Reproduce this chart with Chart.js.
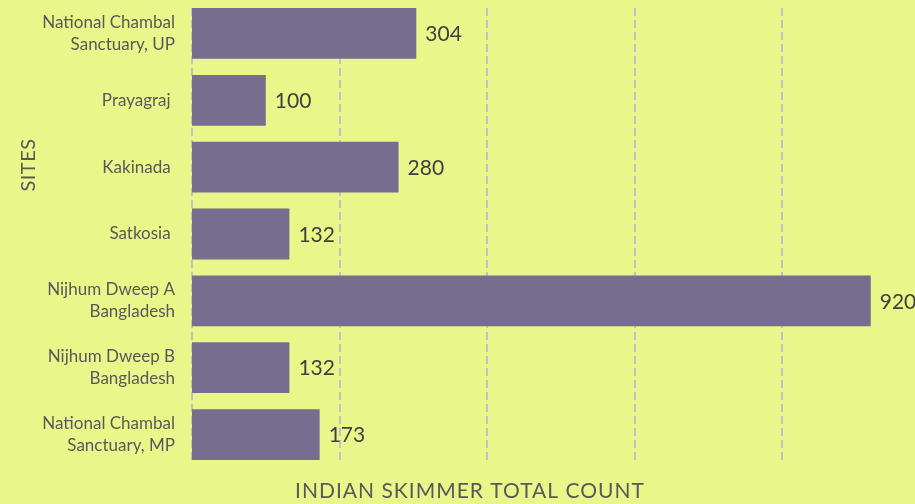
<!DOCTYPE html>
<html>
<head>
<meta charset="utf-8">
<script src="https://cdn.jsdelivr.net/npm/chart.js@4/dist/chart.umd.min.js"></script>
<style>
  html, body { margin: 0; padding: 0; background: #E9F68A; }
  #wrap { width: 915px; height: 504px; position: relative; }
</style>
</head>
<body>
<div id="wrap"><canvas id="c" width="915" height="504"></canvas></div>
<script>
const sites = [
  ["National Chambal", "Sanctuary, UP"],
  "Prayagraj ",
  "Kakinada ",
  "Satkosia ",
  ["Nijhum Dweep A", "Bangladesh"],
  ["Nijhum Dweep B", "Bangladesh"],
  ["National Chambal", "Sanctuary, MP"]
];
const counts = [304, 100, 280, 132, 920, 132, 173];
const gridTicks = [0, 200, 400, 600, 800];
const xTitle = "INDIAN SKIMMER TOTAL COUNT";
const yTitle = "SITES";

const FONT = "Lato, 'Open Sans', sans-serif";

const dashedGrid = {
  id: 'dashedGrid',
  beforeDatasetsDraw(chart) {
    const ctx = chart.ctx;
    const xs = chart.scales.x;
    const meta = chart.getDatasetMeta(0);
    const first = meta.data[0], last = meta.data[meta.data.length - 1];
    const top = first.y - first.height / 2;
    const bottom = last.y + last.height / 2;
    ctx.save();
    ctx.strokeStyle = '#C2C0CC';
    ctx.lineWidth = 2;
    ctx.setLineDash([8, 4]);
    xs.ticks.forEach(t => {
      const x = Math.round(xs.getPixelForValue(t.value));
      ctx.beginPath();
      ctx.moveTo(x, top);
      ctx.lineTo(x, bottom);
      ctx.stroke();
    });
    ctx.restore();
  }
};

const valueLabels = {
  id: 'valueLabels',
  afterDatasetsDraw(chart) {
    const ctx = chart.ctx;
    const meta = chart.getDatasetMeta(0);
    ctx.save();
    ctx.font = "21px " + FONT;
    ctx.fillStyle = '#404040';
    ctx.textAlign = 'left';
    ctx.textBaseline = 'middle';
    meta.data.forEach((el, i) => {
      ctx.fillText(String(counts[i]), el.x + 9, el.y + 1);
    });
    ctx.restore();
  }
};

const axisTitles = {
  id: 'axisTitles',
  afterDraw(chart) {
    const ctx = chart.ctx;
    ctx.save();
    ctx.fillStyle = '#595959';
    ctx.font = "21px " + FONT;
    ctx.letterSpacing = '1px';
    ctx.textAlign = 'center';
    ctx.textBaseline = 'alphabetic';
    ctx.fillText(xTitle, 470, 498);
    ctx.translate(35, 165);
    ctx.rotate(-Math.PI / 2);
    ctx.letterSpacing = '0.5px';
    ctx.font = "20px " + FONT;
    ctx.fillText(yTitle, 0, 0);
    ctx.restore();
  }
};

new Chart(document.getElementById('c'), {
  type: 'bar',
  data: {
    labels: sites,
    datasets: [{
      data: counts,
      backgroundColor: '#776D8F',
      borderWidth: 0,
      categoryPercentage: 1,
      barPercentage: 0.76
    }]
  },
  options: {
    indexAxis: 'y',
    responsive: false,
    animation: false,
    events: [],
    layout: { padding: { top: 0, bottom: 36, left: 0, right: 0 } },
    plugins: { legend: { display: false }, tooltip: { enabled: false } },
    scales: {
      x: {
        min: 0, max: 980,
        afterFit(s) { s.paddingLeft = 0; s.paddingRight = 0; s.height = 0; },
        afterBuildTicks(s) { s.ticks = gridTicks.map(v => ({ value: v })); },
        ticks: { display: false },
        grid: { display: false, drawTicks: false },
        border: { display: false }
      },
      y: {
        afterFit(s) { s.width = 192; s.paddingTop = 0; s.paddingBottom = 0; },
        ticks: {
          color: '#595959',
          font: { family: FONT, size: 17, lineHeight: 1.3 },
          padding: 17
        },
        grid: { display: false, drawTicks: false },
        border: { display: false }
      }
    }
  },
  plugins: [dashedGrid, valueLabels, axisTitles]
});
</script>
</body>
</html>
